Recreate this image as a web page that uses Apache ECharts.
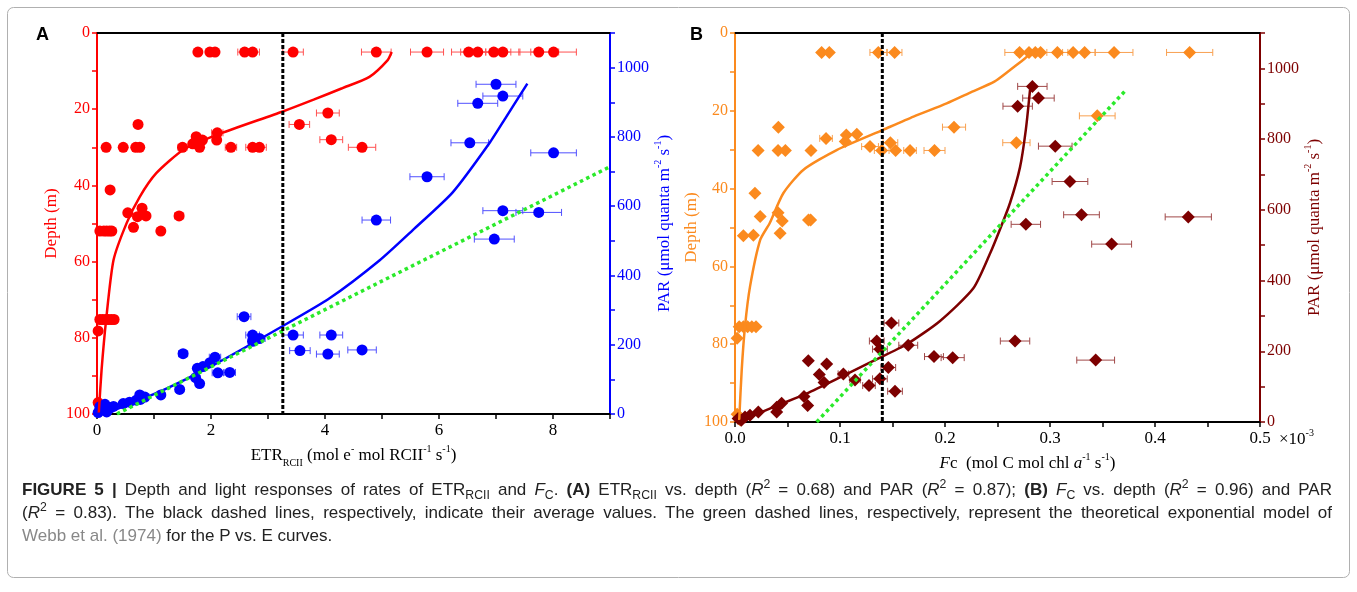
<!DOCTYPE html>
<html>
<head>
<meta charset="utf-8">
<script src="https://cdn.jsdelivr.net/npm/echarts@6/dist/echarts.min.js"></script>
<style>
html, body { margin: 0; padding: 0; background: #fff; }
#chart { position: absolute; left: 0; top: 0; width: 1357px; height: 592px; }
.cap { position: absolute; left: 22px; top: 478px; width: 1310px;
  font-family: "Liberation Sans Narrow", "Liberation Sans", Arial, sans-serif; font-size: 17px; color: #222; }
.ln { height: 23px; line-height: 23px; white-space: nowrap; }
.j { text-align: justify; text-align-last: justify; }
.cap sub, .cap sup { font-size: 0.72em; line-height: 0; }
.ref { color: #888; }
</style>
</head>
<body>
<div id="chart"></div>
<div class="cap">
  <div class="ln j"><b>FIGURE 5 |</b> Depth and light responses of rates of ETR<sub>RCII</sub> and <i>F</i><sub>C</sub>. <b>(A)</b> ETR<sub>RCII</sub> vs. depth (<i>R</i><sup>2</sup> = 0.68) and PAR (<i>R</i><sup>2</sup> = 0.87); <b>(B)</b> <i>F</i><sub>C</sub> vs. depth (<i>R</i><sup>2</sup> = 0.96) and PAR</div>
  <div class="ln j">(<i>R</i><sup>2</sup> = 0.83). The black dashed lines, respectively, indicate their average values. The green dashed lines, respectively, represent the theoretical exponential model of</div>
  <div class="ln"><span class="ref">Webb et al. (1974)</span> for the P vs. E curves.</div>
</div>
<script>
// panel A: ETR_RCII vs depth  [etr, depth, err]
const etrDepth = [
  [1.77, 5, 0], [1.98, 5, 0], [2.07, 5, 0], [2.59, 5, 0.12], [2.73, 5, 0.12], [3.44, 5, 0.18],
  [4.90, 5, 0.26], [5.79, 5, 0.29], [6.52, 5, 0.3], [6.68, 5, 0.3], [6.96, 5, 0.3], [7.12, 5, 0.3],
  [7.75, 5, 0.35], [8.01, 5, 0.4],
  [4.05, 21, 0.2], [3.55, 24, 0.18], [0.72, 24, 0], [4.11, 28, 0.2], [4.65, 30, 0.24],
  [0.16, 30, 0], [0.46, 30, 0], [0.68, 30, 0], [0.75, 30, 0], [1.50, 30, 0.08], [1.80, 30, 0],
  [2.35, 30, 0.1], [2.73, 30, 0.12], [2.85, 30, 0.12],
  [1.74, 27.2, 0], [1.85, 28.1, 0], [1.68, 29.1, 0], [2.11, 26.2, 0.1], [2.10, 28.1, 0],
  [0.23, 41.2, 0], [0.54, 47.2, 0], [0.79, 46, 0], [0.71, 48.2, 0], [0.86, 48, 0], [1.44, 48, 0.08],
  [0.05, 52, 0], [0.12, 52, 0], [0.17, 52, 0], [0.22, 52, 0], [0.26, 52, 0], [0.64, 51, 0], [1.12, 52, 0],
  [0.05, 75.2, 0], [0.1, 75.2, 0], [0.15, 75.2, 0], [0.2, 75.2, 0], [0.25, 75.2, 0], [0.3, 75.2, 0],
  [0.02, 78.2, 0], [0.02, 97, 0], [0.05, 99, 0]
];
// panel A: ETR_RCII vs PAR  [etr, par, err]
const etrPar = [
  [7.0, 952, 0.35], [7.12, 918, 0.35], [6.68, 897, 0.35], [6.54, 783, 0.33], [8.01, 754, 0.4],
  [5.79, 685, 0.3], [7.12, 587, 0.35], [7.75, 582, 0.4], [4.90, 560, 0.25], [6.97, 505, 0.35],
  [4.65, 185, 0.25], [4.11, 228, 0.2], [4.05, 173, 0.2], [3.44, 228, 0.18], [3.56, 183, 0.18],
  [2.58, 281, 0.12], [2.73, 228, 0.12], [2.73, 210, 0.08], [2.85, 218, 0.1], [1.51, 174, 0.08],
  [2.07, 164, 0.1], [1.98, 148, 0], [1.76, 132, 0], [1.86, 137, 0], [1.73, 105, 0], [1.80, 88, 0.05],
  [2.12, 119, 0.1], [2.33, 120, 0.1], [1.45, 71, 0.06], [1.12, 55, 0], [0.75, 55, 0], [0.84, 49, 0],
  [0.69, 40, 0], [0.76, 42, 0], [0.46, 30, 0], [0.57, 34, 0], [0.29, 22, 0], [0.14, 28, 0],
  [0.08, 12, 0], [0.02, 4, 0], [0.17, 6, 0], [0.23, 17, 0], [0.05, 21, 0]
];
// fitted curves
const etrDepthFit = [[5.17, 5], [5.1, 7.1], [4.78, 11.5], [4.3, 14.5], [3.8, 17.5], [3.26, 20.6], [2.09, 26.8],
  [1.51, 30.7], [1.04, 36.8], [0.75, 43], [0.52, 49.9], [0.29, 59.6], [0.16, 75.3], [0.08, 88.5], [0.03, 100]];
const etrParFit = [[0, 0], [0.23, 7], [1.16, 69], [2.04, 141], [3.26, 254], [4.08, 334], [4.96, 444],
  [5.54, 531], [6.24, 640], [6.88, 781], [7.18, 858], [7.55, 954]];
const etrWebb = [[0.35, 0], [9, 714]];
const etrMean = 3.26;

// panel B: Fc (x10^-3) vs depth  [fc, depth, err]
const fcDepth = [
  [0.0825, 5, 0], [0.0898, 5, 0], [0.1365, 5, 0.008], [0.152, 5, 0.007], [0.271, 5, 0.014],
  [0.280, 5, 0.012], [0.286, 5, 0], [0.291, 5, 0], [0.307, 5, 0.01], [0.322, 5, 0.01], [0.333, 5, 0.01],
  [0.361, 5, 0.018], [0.433, 5, 0.022],
  [0.345, 21.3, 0.017], [0.268, 28.2, 0.013], [0.2086, 24.2, 0.011], [0.0413, 24.2, 0], [0.0867, 27.1, 0.006],
  [0.106, 26.2, 0], [0.116, 26, 0], [0.105, 27.9, 0], [0.148, 28.2, 0.007], [0.1286, 29.2, 0.008],
  [0.022, 30.2, 0], [0.041, 30.2, 0], [0.048, 30.2, 0], [0.0724, 30.2, 0], [0.1397, 30.2, 0.007],
  [0.153, 30.2, 0], [0.1667, 30.2, 0.006], [0.190, 30.2, 0.01],
  [0.019, 41.2, 0], [0.041, 46.2, 0], [0.024, 47.2, 0], [0.045, 48.3, 0], [0.070, 48.1, 0], [0.072, 48.1, 0],
  [0.008, 52.1, 0], [0.0175, 52, 0], [0.043, 51.5, 0],
  [0.004, 75.5, 0], [0.008, 75.5, 0], [0.012, 75.5, 0], [0.016, 75.5, 0], [0.02, 75.5, 0],
  [0.002, 78.5, 0], [0.002, 98, 0], [0.005, 99.5, 0]
];
// panel B: Fc (x10^-3) vs PAR  [fc, par, err]
const fcPar = [
  [0.2832, 949, 0.014], [0.289, 916, 0.015], [0.2692, 893, 0.014], [0.305, 780, 0.016], [0.319, 680, 0.017],
  [0.330, 586, 0.017], [0.4317, 580, 0.022], [0.277, 559, 0.014], [0.3587, 503, 0.019], [0.2667, 229, 0.014],
  [0.3435, 175, 0.018],
  [0.149, 280, 0.007], [0.135, 229, 0.007], [0.138, 206, 0.007], [0.165, 217, 0.009], [0.1895, 185, 0.009],
  [0.2073, 182, 0.011], [0.146, 154, 0.007], [0.138, 122, 0.007], [0.1524, 87, 0.007], [0.1276, 103, 0.006],
  [0.1032, 136, 0.005], [0.1143, 119, 0.005],
  [0.0698, 173, 0], [0.0873, 164, 0], [0.0803, 134, 0], [0.0848, 112, 0], [0.0657, 72, 0], [0.0692, 47, 0],
  [0.0397, 42, 0], [0.0444, 53, 0], [0.0397, 28, 0], [0.0222, 28, 0], [0.0143, 19, 0], [0.0095, 14, 0],
  [0.003, 10, 0], [0.006, 5, 0]
];
const fcDepthFit = [[0.2825, 5], [0.2746, 6.9], [0.262, 9.5], [0.247, 12.5], [0.225, 15.2], [0.2016, 18.1],
  [0.17, 21.5], [0.141, 24.9], [0.0968, 30.1], [0.065, 35.2], [0.046, 41.2], [0.033, 48.9], [0.024, 53.2],
  [0.0143, 65.2], [0.0095, 75.5], [0.0064, 86.6], [0.004, 99.5]];
const fcParFit = [[0.003, 0], [0.0365, 42], [0.068, 80], [0.1, 126], [0.1317, 173], [0.1635, 220],
  [0.195, 285], [0.227, 378], [0.243, 477], [0.2524, 545], [0.262, 620], [0.2714, 720], [0.277, 827], [0.281, 940]];
const fcWebb = [[0.0778, 0], [0.3724, 939]];
const fcMean = 0.1403;

const SERIF = '"Liberation Serif", "Times New Roman", serif';
const RED = '#ff0000', BLUE = '#0000ff', ORANGE = '#fb8a1e', DARK = '#7d0000', GREEN = '#2bea2b';

const chart = echarts.init(document.getElementById('chart'));

function richStyles(color) {
  return {
    a: { fontFamily: SERIF, fontSize: 17, color: color, lineHeight: 24 },
    i: { fontFamily: SERIF, fontSize: 17, color: color, lineHeight: 24, fontStyle: 'italic' },
    b: { fontFamily: SERIF, fontSize: 10, color: color, lineHeight: 10, verticalAlign: 'bottom' },
    c: { fontFamily: SERIF, fontSize: 10, color: color, lineHeight: 10, verticalAlign: 'top' }
  };
}

function errBars(color) {
  return function (params, api) {
    const e = api.value(2);
    if (!e) return null;
    const x = api.value(0), y = api.value(1);
    const p1 = api.coord([x - e, y]), p2 = api.coord([x + e, y]);
    const st = { stroke: color, lineWidth: 1 };
    return { type: 'group', children: [
      { type: 'line', shape: { x1: p1[0], y1: p1[1], x2: p2[0], y2: p2[1] }, style: st },
      { type: 'line', shape: { x1: p1[0], y1: p1[1] - 3.5, x2: p1[0], y2: p1[1] + 3.5 }, style: st },
      { type: 'line', shape: { x1: p2[0], y1: p2[1] - 3.5, x2: p2[0], y2: p2[1] + 3.5 }, style: st }
    ]};
  };
}

function bottomAxis(grid, max, interval, fmt, name, nameGap, pad) {
  return {
    type: 'value', gridIndex: grid, position: 'bottom', min: 0, max: max, interval: interval,
    name: name, nameLocation: 'middle', nameGap: nameGap,
    nameTextStyle: { rich: richStyles('#000'), padding: pad },
    axisLine: { show: true, onZero: false, lineStyle: { color: '#000', width: 2 } },
    axisTick: { show: true, length: 5, lineStyle: { color: '#000', width: 1.5 } },
    axisLabel: { color: '#000', fontFamily: SERIF, fontSize: 17, margin: 8, formatter: fmt },
    splitLine: { show: false }
  };
}
function topAxis(grid, max) {
  return {
    type: 'value', gridIndex: grid, position: 'top', min: 0, max: max,
    axisLine: { show: true, onZero: false, lineStyle: { color: '#000', width: 2 } },
    axisTick: { show: false }, axisLabel: { show: false }, splitLine: { show: false }
  };
}
function sideAxis(grid, pos, max, interval, color, fmt, inverse, name, nameGap) {
  return {
    type: 'value', gridIndex: grid, position: pos, min: 0, max: max, interval: interval, inverse: inverse,
    name: name, nameLocation: 'middle', nameRotate: 90, nameGap: nameGap,
    nameTextStyle: { rich: richStyles(color) },
    axisLine: { show: true, onZero: false, lineStyle: { color: color, width: 2 } },
    axisTick: { show: true, length: 5, lineStyle: { color: color, width: 1.5 } },
    axisLabel: { color: color, fontFamily: SERIF, fontSize: 16, margin: 7, formatter: fmt },
    splitLine: { show: false }
  };
}

const depthFmt = v => (v % 20 === 0 ? String(v) : '');
const parFmt = v => (v % 200 === 0 && v <= 1000 ? String(v) : '');
const etrFmt = v => (v % 2 === 0 ? String(v) : '');
const fcFmt = v => { const k = Math.round(v * 100); return k % 10 === 0 ? (k / 100).toFixed(1) : ''; };

const parName = '{a|PAR (μmol quanta m}{c|-2}{a| s}{c|-1}{a|)}';

function scatter(name, data, xi, yi, color, symbol, size) {
  return { name: name, type: 'scatter', xAxisIndex: xi, yAxisIndex: yi, data: data,
    symbol: symbol, symbolSize: size, itemStyle: { color: color, opacity: 1 }, z: 3, silent: true };
}
function bars(data, xi, yi, color) {
  return { type: 'custom', xAxisIndex: xi, yAxisIndex: yi, data: data, renderItem: errBars(color), z: 2, silent: true };
}
function curve(data, xi, yi, color, width, type, z) {
  return { type: 'line', xAxisIndex: xi, yAxisIndex: yi, data: data, smooth: type ? false : 0.22,
    symbol: 'none', lineStyle: { color: color, width: width, type: type || 'solid' }, z: z, silent: true };
}

const option = {
  animation: false,
  backgroundColor: '#fff',
  grid: [
    { left: 97, top: 33, width: 513, height: 381 },
    { left: 735, top: 33, width: 525, height: 389 }
  ],
  xAxis: [
    bottomAxis(0, 9, 1, etrFmt,
      '{a|ETR}{b|RCII}{a| (mol e}{c|-}{a| mol RCII}{c|-1}{a| s}{c|-1}{a|)}', 27, [0, 0, 0, 0]),
    topAxis(0, 9),
    bottomAxis(1, 0.5, 0.05, fcFmt,
      '{i|F}{a|c  (mol C mol chl }{i|a}{c|-1}{a| s}{c|-1}{a|)}', 27, [0, 0, 0, 60]),
    topAxis(1, 0.5)
  ],
  yAxis: [
    sideAxis(0, 'left', 100, 10, RED, depthFmt, true, '{a|Depth (m)}', 33),
    sideAxis(0, 'right', 1100, 100, BLUE, parFmt, false, parName, 25),
    sideAxis(1, 'left', 100, 10, ORANGE, depthFmt, true, '{a|Depth (m)}', 30),
    sideAxis(1, 'right', 1100, 100, DARK, parFmt, false, parName, 40)
  ],
  graphic: [
    { type: 'rect', shape: { x: 7.5, y: 7.5, width: 1342, height: 570, r: 6 },
      style: { fill: 'none', stroke: '#b0b0b0', lineWidth: 1 }, silent: true },
    { type: 'text', left: 36, top: 26, style: { text: 'A', font: 'bold 18px "Liberation Sans", Arial', fill: '#000' } },
    { type: 'text', left: 690, top: 26, style: { text: 'B', font: 'bold 18px "Liberation Sans", Arial', fill: '#000' } },
    { type: 'text', left: 1279, top: 428, style: { text: '{a|×10}{c|-3}', rich: richStyles('#000') } }
  ],
  series: [
    bars(etrDepth, 0, 0, '#ff5050'),
    scatter('ETR depth', etrDepth, 0, 0, RED, 'circle', 11),
    curve(etrDepthFit, 0, 0, RED, 2.5, null, 4),
    bars(etrPar, 0, 1, '#5050ff'),
    scatter('ETR PAR', etrPar, 0, 1, BLUE, 'circle', 11),
    curve(etrParFit, 0, 1, BLUE, 2.5, null, 4),
    curve(etrWebb, 0, 1, GREEN, 3.5, [3.5, 3.5], 5),
    curve([[etrMean, 0], [etrMean, 100]], 0, 0, '#000', 3, [4, 2], 5),

    bars(fcDepth, 2, 2, '#f8a050'),
    scatter('Fc depth', fcDepth, 2, 2, ORANGE, 'diamond', 13),
    curve(fcDepthFit, 2, 2, ORANGE, 2.5, null, 4),
    bars(fcPar, 2, 3, '#a04848'),
    scatter('Fc PAR', fcPar, 2, 3, DARK, 'diamond', 13),
    curve(fcParFit, 2, 3, DARK, 2.5, null, 4),
    curve(fcWebb, 2, 3, GREEN, 3.5, [3.5, 3.5], 5),
    curve([[fcMean, 0], [fcMean, 100]], 2, 2, '#000', 3, [4, 2], 5)
  ]
};

chart.setOption(option);
window.onresize = chart.resize;
</script>
</body>
</html>
